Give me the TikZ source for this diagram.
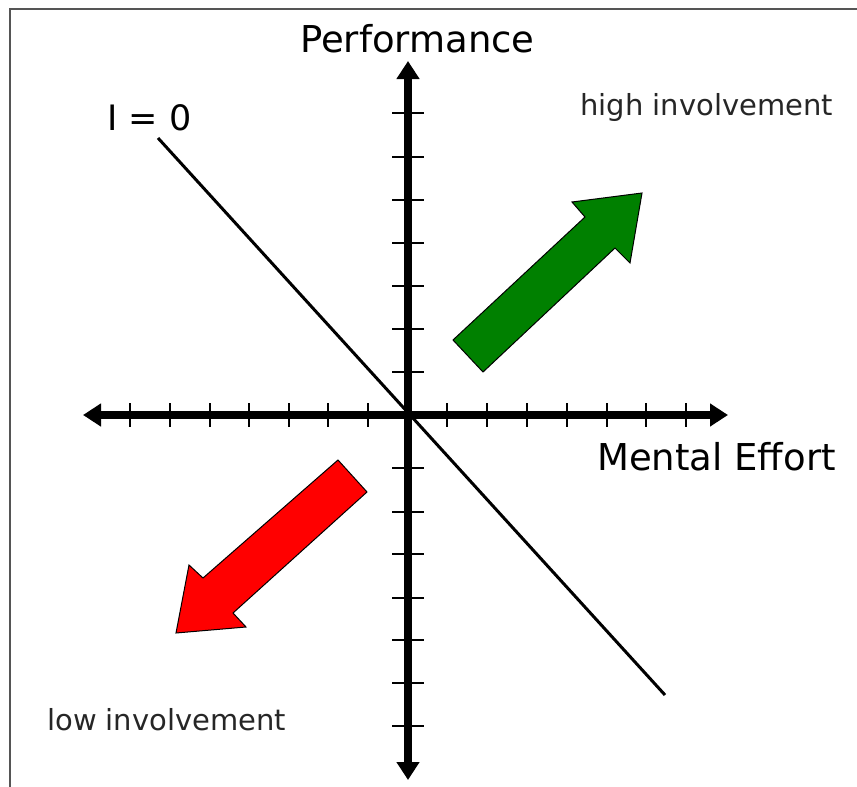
\documentclass[tikz,border=0pt]{standalone}
\usepackage{fontspec}
\setmainfont{DejaVu Sans}
\usetikzlibrary{arrows.meta}

\definecolor{arrowgreen}{RGB}{0,128,0}
\definecolor{arrowred}{RGB}{255,0,0}
\definecolor{framegray}{RGB}{85,85,85}

\tikzset{
  axis/.style={line width=8, {Triangle[length=18pt,width=22pt]}-{Triangle[length=18pt,width=22pt]}},
  tick/.style={line width=1.6},
  bigtxt/.style={anchor=base west, inner sep=0pt, font=\fontsize{37}{44}\selectfont},
  smalltxt/.style={anchor=base west, inner sep=0pt, text=black!85, font=\fontsize{29}{35}\selectfont}
}

\begin{document}
\begin{tikzpicture}[x=1pt,y=1pt,yscale=-1,xscale=1]
\useasboundingbox (0,0) rectangle (857,787);

%Frame
\draw [color=framegray, line width=2]    (10,787) -- (10,9) -- (857,9) ;

%Straight Lines: I = 0
\draw [line width=3]    (158,138) -- (665,695) ;

%Axes
\draw [axis]    (83,415) -- (728,415) ;
\draw [axis]    (408,780) -- (408,61) ;

%Ticks
\foreach \x in {130,170,210,249,289,328,368,447,487,527,567,607,646,686}
  \draw [tick]    (\x,403) -- (\x,427) ;
\foreach \y in {113,157,200,243,286,329,372,468,512,554,598,640,683,726}
  \draw [tick]    (392,\y) -- (424,\y) ;

%Shape: Arrow up
\draw [fill=arrowgreen, line width=1]    (453,340) -- (585,217) -- (572,202) -- (642,193) -- (630,263) -- (615,248) -- (483,372) -- cycle ;
%Shape: Arrow down
\draw [fill=arrowred, line width=1]    (338,460) -- (203,578) -- (189,565) -- (176,633) -- (246,627) -- (233,613) -- (367,492) -- cycle ;

% Text Node
\node [bigtxt] (perf) at (300,52) {Performance};
% Text Node
\node [bigtxt] (effort) at (597,470) {Mental Effort};
% Text Node
\node [bigtxt, font=\fontsize{35}{42}\selectfont] (izero) at (107,130) {I = 0};
% Text Node
\node [smalltxt] (high) at (580,115) {high involvement};
% Text Node
\node [smalltxt] (low) at (47,730) {low involvement};

\end{tikzpicture}
\end{document}
